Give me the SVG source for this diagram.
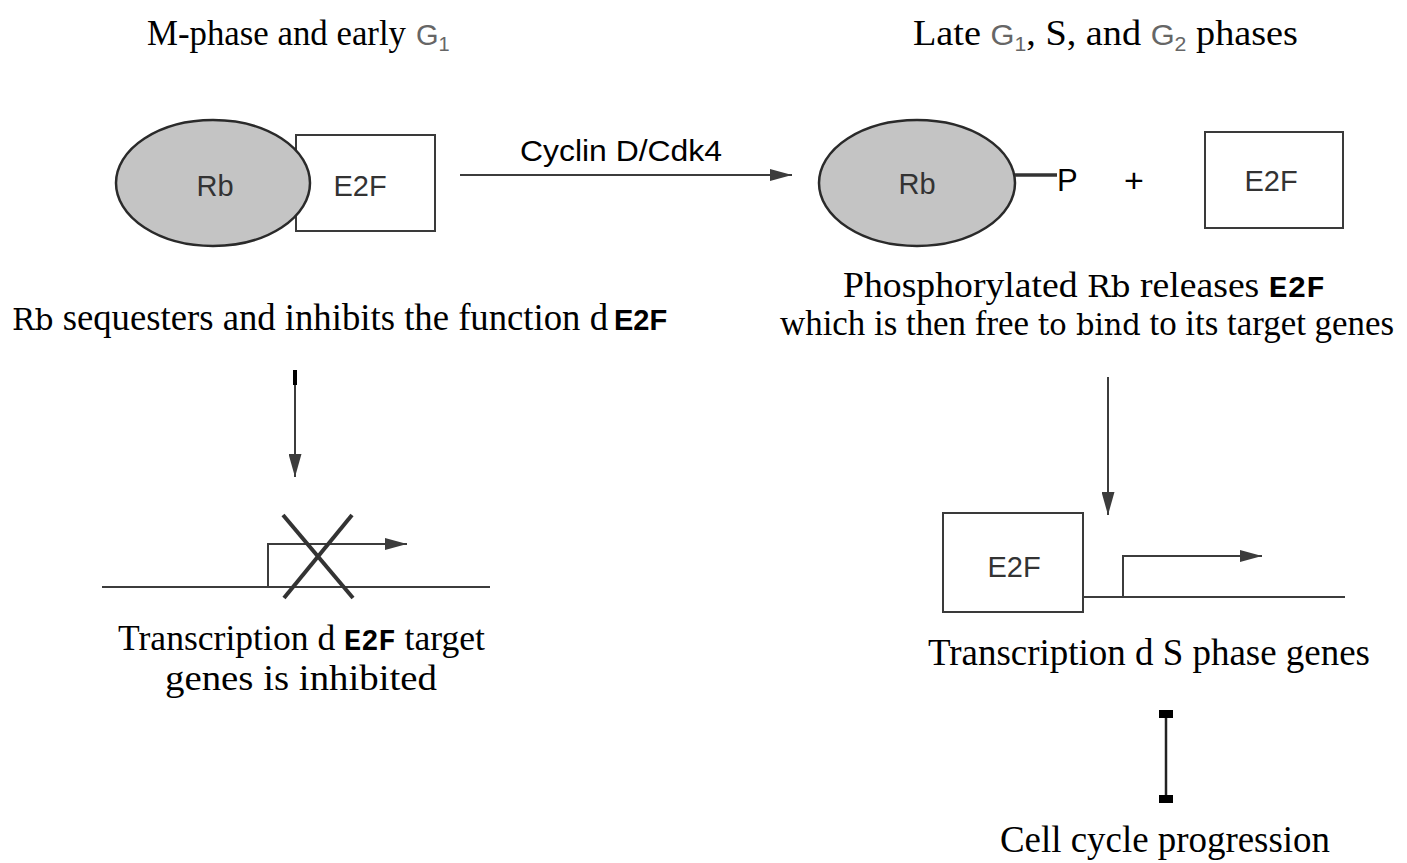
<svg xmlns="http://www.w3.org/2000/svg" width="1407" height="863" viewBox="0 0 1407 863">
<defs>
<style>
.serif{font-family:"Liberation Serif","Times New Roman",serif;fill:#000}
.sans{font-family:"Liberation Sans",Arial,sans-serif}
.mono{font-family:"Liberation Mono","Courier New",monospace;font-weight:bold}
.lbl{font-family:"Liberation Sans",Arial,sans-serif;fill:#333;font-size:29px}
.rb{fill:#c4c4c4;stroke:#2a2a2a;stroke-width:2.5}
.box{fill:#fff;stroke:#3a3a3a;stroke-width:2}
.ln{stroke:#3c3c3c;stroke-width:2;fill:none}
.g{fill:#666;font-family:"Liberation Sans",Arial,sans-serif}
</style>
<marker id="ah" viewBox="0 0 22 12" markerWidth="22" markerHeight="12" refX="22" refY="6" orient="auto" markerUnits="userSpaceOnUse">
<path d="M0,0 L22,6 L0,12 z" fill="#3c3c3c"/>
</marker>
<marker id="ahb" viewBox="0 0 23 13" markerWidth="23" markerHeight="13" refX="23" refY="6.5" orient="auto" markerUnits="userSpaceOnUse">
<path d="M0,0 L23,6.5 L0,13 z" fill="#3c3c3c"/>
</marker>
</defs>
<rect width="1407" height="863" fill="#fff"/>

<g id="title-left">
<text class="serif" x="147" y="45" font-size="36" textLength="259" lengthAdjust="spacingAndGlyphs">M-phase and early</text>
<text class="g" x="416" y="45" font-size="29">G<tspan font-size="20" dy="6">1</tspan></text>
</g>
<g id="title-right">
<text class="serif" x="913" y="45" font-size="36" textLength="385" lengthAdjust="spacingAndGlyphs">Late <tspan class="g" font-size="29">G<tspan font-size="20" dy="6">1</tspan></tspan><tspan dy="-6">, S, and </tspan><tspan class="g" font-size="29">G<tspan font-size="20" dy="6">2</tspan></tspan><tspan dy="-6"> phases</tspan></text>
</g>

<g id="complex-left">
<rect class="box" x="296" y="135" width="139" height="96"/>
<ellipse class="rb" cx="213" cy="183" rx="97" ry="63"/>
<text class="lbl" x="215" y="196" text-anchor="middle">Rb</text>
<text class="lbl" x="360" y="196" text-anchor="middle">E2F</text>
</g>

<g id="rb-phos">
<ellipse class="rb" cx="917" cy="183" rx="98" ry="63"/>
<text class="lbl" x="917" y="194" text-anchor="middle">Rb</text>
<line x1="1015" y1="175" x2="1057" y2="175" stroke="#333" stroke-width="3.5"/>
<text class="sans" x="1057" y="191" font-size="31" fill="#000">P</text>
<text class="sans" x="1134" y="192" font-size="34" fill="#000" text-anchor="middle">+</text>
</g>

<g id="e2f-free">
<rect class="box" x="1205" y="132" width="138" height="96"/>
<text class="lbl" x="1271" y="191" text-anchor="middle" font-size="27">E2F</text>
</g>

<g id="caption-left">
<text class="serif" x="12" y="330" font-size="37" textLength="596" lengthAdjust="spacingAndGlyphs"><tspan font-family="DejaVu Serif" font-size="30">Rb</tspan> sequesters and inhibits the function d</text>
<text class="sans" x="614" y="330" font-size="29" font-weight="bold" fill="#000">E2F</text>
</g>

<g id="caption-right">
<text class="serif" x="843" y="297" font-size="35" textLength="482" lengthAdjust="spacingAndGlyphs">Phosphorylated <tspan font-family="DejaVu Serif" font-size="29">Rb</tspan> releases <tspan class="mono" font-size="29">E2F</tspan></text>
<text class="serif" x="780" y="335" font-size="35" textLength="614" lengthAdjust="spacingAndGlyphs">which is then free <tspan font-family="DejaVu Serif" font-size="29">to bind</tspan> to its target genes</text>
</g>

<g id="gene-inhibited">
<line class="ln" x1="102" y1="587" x2="490" y2="587"/>
<polyline class="ln" points="268,587 268,544 407,544" marker-end="url(#ah)"/>
<line x1="283" y1="515" x2="353" y2="598" stroke="#333" stroke-width="4"/>
<line x1="352" y1="515" x2="284" y2="598" stroke="#333" stroke-width="4"/>
<text class="serif" x="118" y="650" font-size="36" textLength="367" lengthAdjust="spacingAndGlyphs">Transcription d <tspan class="mono" font-size="29">E2F</tspan> target</text>
<text class="serif" x="165" y="690" font-size="36" textLength="272" lengthAdjust="spacingAndGlyphs">genes is inhibited</text>
</g>

<g id="gene-active">
<rect class="box" x="943" y="513" width="140" height="99"/>
<text class="lbl" x="1014" y="577" text-anchor="middle" font-size="27">E2F</text>
<line class="ln" x1="1083" y1="597" x2="1345" y2="597"/>
<polyline class="ln" points="1123,597 1123,556 1262,556" marker-end="url(#ah)"/>
<text class="serif" x="928" y="665" font-size="38" textLength="442" lengthAdjust="spacingAndGlyphs">Transcription d S phase genes</text>
</g>

<g id="progression">
<text class="serif" x="1000" y="852" font-size="37" textLength="330" lengthAdjust="spacingAndGlyphs">Cell cycle progression</text>
</g>

<g id="connectors">
<line class="ln" x1="460" y1="175" x2="792" y2="175" marker-end="url(#ah)"/>
<text class="sans" x="520" y="161" font-size="29" fill="#000" textLength="202" lengthAdjust="spacingAndGlyphs">Cyclin D/Cdk4</text>
<line x1="295" y1="370" x2="295" y2="385" stroke="#000" stroke-width="4"/>
<line class="ln" x1="295" y1="385" x2="295" y2="477" marker-end="url(#ahb)"/>
<line class="ln" x1="1108" y1="377" x2="1108" y2="515" marker-end="url(#ahb)"/>
<line x1="1166" y1="714" x2="1166" y2="799" stroke="#222" stroke-width="2.5"/>
<rect x="1159" y="710" width="14" height="8" fill="#000"/>
<rect x="1159" y="795" width="14" height="8" fill="#000"/>
</g>
</svg>
